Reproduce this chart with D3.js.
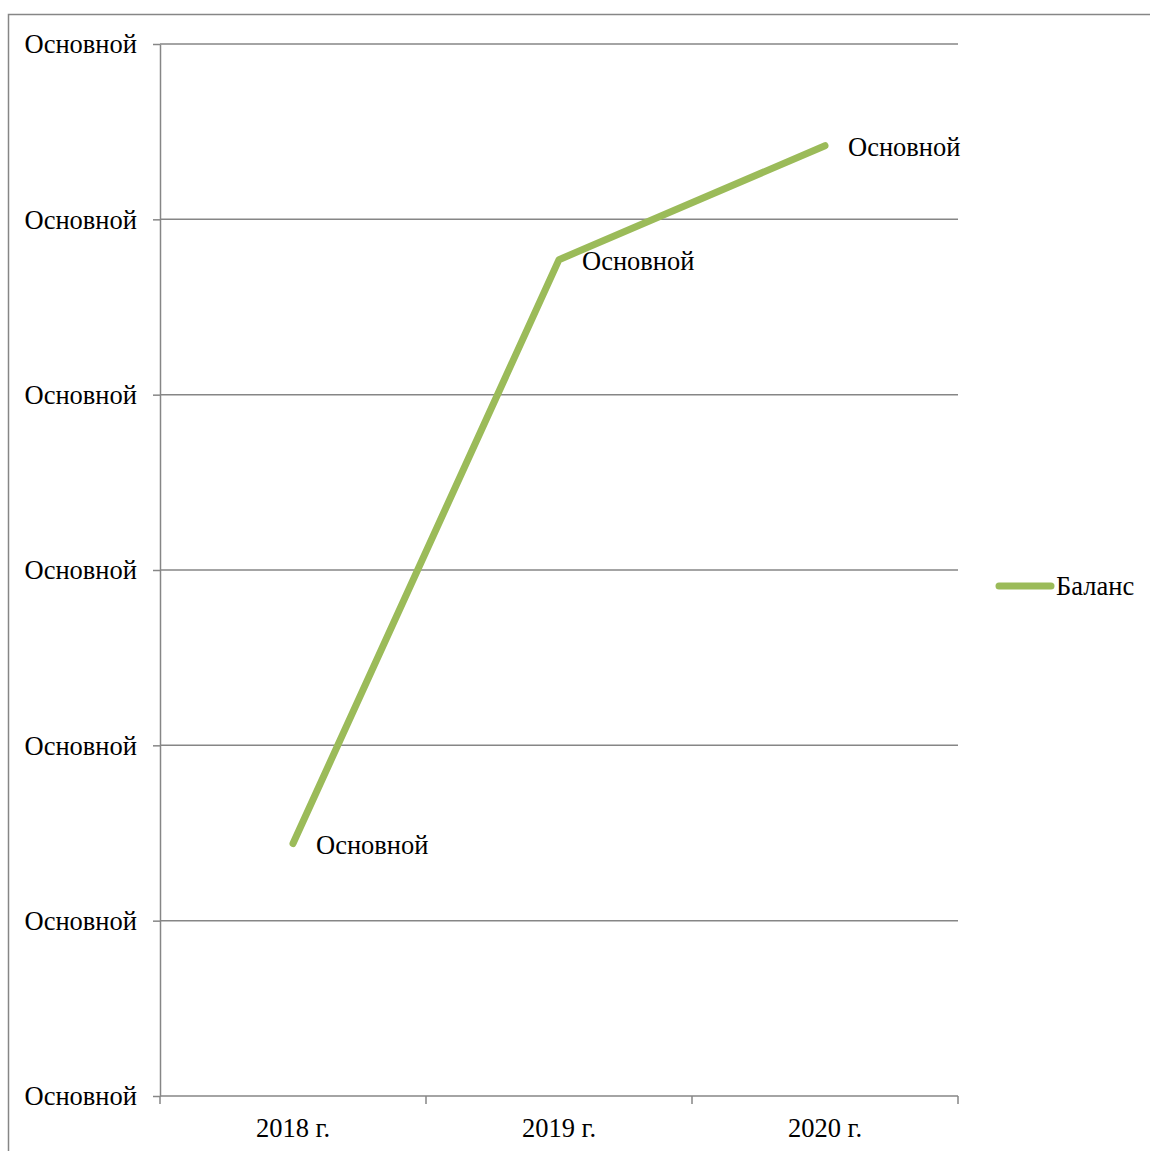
<!DOCTYPE html>
<html>
<head>
<meta charset="utf-8">
<script src="https://cdn.jsdelivr.net/npm/d3@7"></script>
<style>
  html, body { margin: 0; padding: 0; background: #fff; }
  svg text { font-family: 'Liberation Serif', 'Times New Roman', 'DejaVu Serif', serif !important; fill: #000; }
</style>
</head>
<body>
<svg id="chart" width="1150" height="1151"></svg>
<script>
// Balance by year
const categories = ["2018 г.", "2019 г.", "2020 г."];
const balance = [1.44, 4.77, 5.42];
const yTicks = [0, 1, 2, 3, 4, 5, 6];
const yTickLabel = "Основной";
const pointLabel = "Основной";
const seriesName = "Баланс";

const svg = d3.select("#chart");
const margin = { left: 160, right: 958, top: 44, bottom: 1096 };
const lineColor = "#9BBB59";
const gridColor = "#868686";
const fontSize = 26.5;

// chart frame
svg.append("rect")
  .attr("x", 8.5).attr("y", 14.5)
  .attr("width", 1160).attr("height", 1160)
  .attr("fill", "none").attr("stroke", gridColor).attr("stroke-width", 1.5);

const x = d3.scaleBand().domain(categories).range([margin.left, margin.right]).paddingInner(0).paddingOuter(0);
const y = d3.scaleLinear().domain([0, 6]).range([margin.bottom, margin.top]);

// horizontal gridlines
svg.append("g").selectAll("line").data(yTicks.slice(1)).join("line")
  .attr("x1", margin.left).attr("x2", margin.right)
  .attr("y1", d => y(d)).attr("y2", d => y(d))
  .attr("stroke", gridColor).attr("stroke-width", 1.5);

// y axis
const yAxis = svg.append("g").attr("transform", `translate(${margin.left},0)`)
  .call(d3.axisLeft(y).tickValues(yTicks).tickSize(7).tickSizeOuter(0).tickFormat(() => yTickLabel));
yAxis.select(".domain").attr("stroke", gridColor).attr("stroke-width", 1.5);
yAxis.selectAll(".tick line").attr("stroke", gridColor).attr("stroke-width", 1.5);
yAxis.selectAll(".tick text")
  .attr("x", -23).attr("dy", "0.33em")
  .attr("font-size", fontSize);

// x axis with ticks on category boundaries
const xg = svg.append("g").attr("transform", `translate(0,${margin.bottom})`);
xg.append("line").attr("x1", margin.left).attr("x2", margin.right)
  .attr("stroke", gridColor).attr("stroke-width", 1.5);
const bounds = categories.map(c => x(c)).concat([x(categories[categories.length - 1]) + x.bandwidth()]);
xg.selectAll("line.tk").data(bounds).join("line").attr("class", "tk")
  .attr("x1", d => d).attr("x2", d => d).attr("y1", 0).attr("y2", 8)
  .attr("stroke", gridColor).attr("stroke-width", 1.5);
xg.selectAll("text").data(categories).join("text")
  .attr("x", d => x(d) + x.bandwidth() / 2).attr("y", 41)
  .attr("text-anchor", "middle").attr("font-size", fontSize)
  .text(d => d);

// series line
const pts = categories.map((c, i) => [x(c) + x.bandwidth() / 2, y(balance[i])]);
svg.append("path")
  .attr("d", d3.line()(pts))
  .attr("fill", "none").attr("stroke", lineColor).attr("stroke-width", 7)
  .attr("stroke-linecap", "round").attr("stroke-linejoin", "round");

// data labels
svg.append("g").selectAll("text").data(pts).join("text")
  .attr("x", d => d[0] + 23).attr("y", d => d[1] + 2).attr("dy", "0.33em")
  .attr("font-size", fontSize)
  .text(pointLabel);

// legend
const lg = svg.append("g").attr("transform", "translate(0,586)");
lg.append("line").attr("x1", 999).attr("x2", 1051).attr("y1", 0).attr("y2", 0)
  .attr("stroke", lineColor).attr("stroke-width", 7).attr("stroke-linecap", "round");
lg.append("text").attr("x", 1056).attr("y", 0).attr("dy", "0.33em")
  .attr("font-size", fontSize).text(seriesName);
</script>
</body>
</html>
